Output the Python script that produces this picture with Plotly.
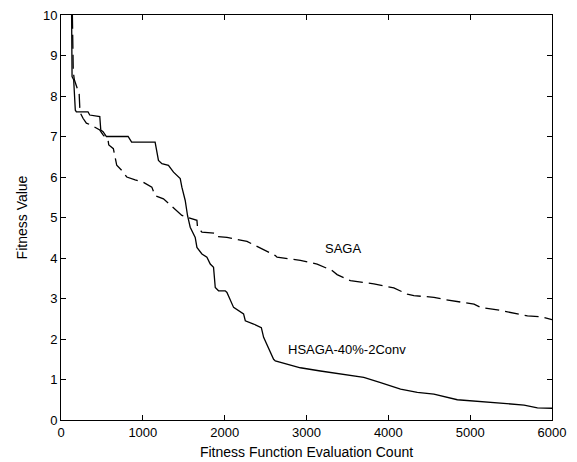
import plotly.graph_objects as go

# HSAGA-40%-2Conv (solid)
hsaga_x = [128, 135, 155, 175, 188, 330, 351, 474, 486, 514, 555, 820, 863, 1150, 1191, 1233, 1313,
           1375, 1457, 1477, 1518, 1546, 1579, 1640, 1661, 1722, 1783, 1824, 1864, 1885, 1925, 2007,
           2028, 2069, 2109, 2231, 2252, 2354, 2448, 2476, 2598, 2619, 2762, 2925, 3170, 3415, 3700,
           3905, 4149, 4354, 4557, 4843, 5129, 5373, 5659, 5822, 6000]
hsaga_y = [10.5, 8.48, 8.4, 7.65, 7.61, 7.61, 7.53, 7.49, 7.16, 7.12, 7.0, 7.0, 6.86, 6.86, 6.41, 6.33, 6.29,
           6.12, 5.96, 5.75, 5.42, 5.05, 4.76, 4.51, 4.26, 4.10, 4.02, 3.85, 3.77, 3.27, 3.19, 3.19,
           3.15, 2.95, 2.78, 2.62, 2.45, 2.37, 2.28, 2.04, 1.50, 1.46, 1.38, 1.29, 1.21, 1.13, 1.05,
           0.92, 0.76, 0.68, 0.64, 0.50, 0.45, 0.41, 0.37, 0.30, 0.29]

# SAGA (dashed)
saga_x = [135, 150, 163, 200, 222, 232, 269, 310, 371, 474, 514, 575, 584, 640, 681, 743, 804, 906, 1007,
          1110, 1150, 1252, 1416, 1477, 1661, 1668, 1722, 1885, 1905, 2028, 2273, 2354, 2518, 2619,
          2640, 2803, 2925, 3130, 3313, 3374, 3537, 3823, 4067, 4231, 4312, 4557, 4700, 5047, 5129,
          5333, 5496, 5700, 5863, 6000]
saga_y = [10.5, 8.6, 8.4, 8.2, 8.05, 7.6, 7.45, 7.33, 7.28, 7.16, 7.04, 6.91, 6.79, 6.70, 6.29, 6.16, 6.0, 5.93, 5.87,
          5.75, 5.54, 5.46, 5.17, 5.05, 4.93, 4.76, 4.64, 4.61, 4.53, 4.51, 4.41, 4.33, 4.18, 4.06,
          4.02, 3.98, 3.94, 3.85, 3.69, 3.59, 3.44, 3.36, 3.26, 3.11, 3.07, 3.03, 2.97, 2.86, 2.78,
          2.72, 2.66, 2.57, 2.55, 2.48]

x_ticks = [0, 1000, 2000, 3000, 4000, 5000, 6000]
y_ticks = [0, 1, 2, 3, 4, 5, 6, 7, 8, 9, 10]

labels = [("SAGA", 3200, 4.24), ("HSAGA-40%-2Conv", 2754, 1.73)]

fig = go.Figure()
fig.add_trace(go.Scatter(x=saga_x, y=saga_y, mode="lines",
                         line=dict(color="black", width=1.3, dash="14px,6px"), name="SAGA"))
fig.add_trace(go.Scatter(x=hsaga_x, y=hsaga_y, mode="lines",
                         line=dict(color="black", width=1.3), name="HSAGA-40%-2Conv"))

for text, lx, ly in labels:
    fig.add_annotation(x=lx, y=ly, text=text, showarrow=False, xref="x", yref="y",
                       xanchor="left", font=dict(size=13, color="black"))

axis_common = dict(showline=True, linecolor="black", linewidth=1, mirror="ticks",
                   ticks="inside", ticklen=5, tickcolor="black", showgrid=False, zeroline=False,
                   automargin=False, tickfont=dict(size=13, color="black"))

fig.update_layout(
    width=577, height=462,
    margin=dict(l=61, r=25, t=15, b=42),
    paper_bgcolor="white", plot_bgcolor="white",
    showlegend=False,
    font=dict(family="Liberation Sans, Arial, sans-serif", color="black"),
    xaxis=dict(range=[0, 6000], tickvals=x_ticks, ticktext=[str(v) for v in x_ticks],
               title=dict(text="Fitness Function Evaluation Count", font=dict(size=14), standoff=8),
               **axis_common),
    yaxis=dict(range=[0, 10], tickvals=y_ticks, ticktext=[str(v) for v in y_ticks],
               title=dict(text="Fitness Value", font=dict(size=14), standoff=12),
               **axis_common),
)

fig.write_html("out.html", config={"displayModeBar": False},
               post_script="document.body.style.margin='0px';document.body.style.overflow='hidden';")
